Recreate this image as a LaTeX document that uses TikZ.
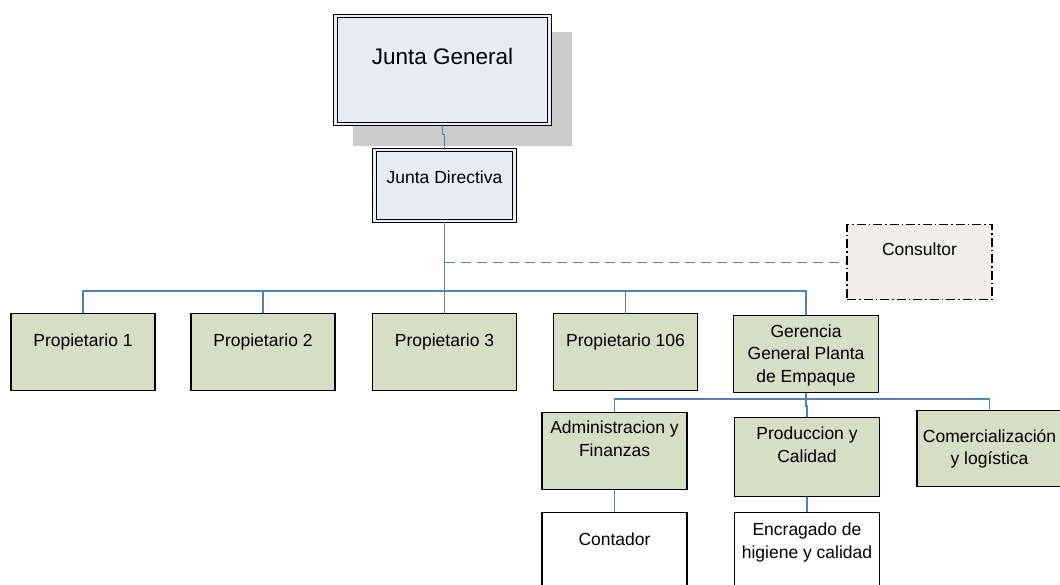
\documentclass[tikz,border=0pt]{standalone}
\usepackage{fontspec}
\setmainfont{Liberation Sans}
\begin{document}
\begin{tikzpicture}[x=1pt,y=-1pt,
  orgbox/.style={draw=black,line width=1.3pt,fill=boxFill,minimum width=144pt,minimum height=77pt,anchor=north,inner sep=0pt},
  plainbox/.style={orgbox,fill=white,minimum height=82pt},
  topbox/.style={draw=black,line width=1.1pt,double=topFill,double distance=2.4pt,fill=topFill,anchor=north,inner sep=0pt},
  consbox/.style={orgbox,fill=consFill,minimum width=145pt,minimum height=75pt,dash pattern=on 9pt off 3pt on 1.5pt off 3pt},
  boxtext/.style={anchor=north,align=center,inner sep=0pt,font=\fontsize{17.5}{22.5}\selectfont},
  link/.style={draw=linkColor,line width=1.3pt}]
\definecolor{boxFill}{RGB}{216,221,198}
\definecolor{topFill}{RGB}{231,236,247}
\definecolor{consFill}{RGB}{240,240,232}
\definecolor{shadowColor}{RGB}{204,204,204}
\definecolor{linkColor}{RGB}{79,129,189}
\path[use as bounding box,fill=white] (0,0) rectangle (1060,584);

\path[fill=shadowColor] (353,32) rectangle (572,146);

\node[topbox,minimum width=214pt,minimum height=108pt,
  label={[boxtext,font=\fontsize{22.5}{27}\selectfont,yshift=-32]north:Junta General}] (jg) at (442.5,15.5) {};

\node[topbox,minimum width=140pt,minimum height=71pt,
  label={[boxtext,yshift=-21]north:Junta Directiva}] (jd) at (444.5,149.5) {};

\node[consbox,label={[boxtext,yshift=-19]north:Consultor}] (cons) at (919.5,224) {};

\node[orgbox,label={[boxtext,yshift=-21]north:Propietario 1}] (p1) at (83,313) {};

\node[orgbox,label={[boxtext,yshift=-21]north:Propietario 2}] (p2) at (263,313) {};

\node[orgbox,label={[boxtext,yshift=-21]north:Propietario 3}] (p3) at (444.5,313) {};

\node[orgbox,label={[boxtext,yshift=-21]north:Propietario 106}] (p106) at (625.5,313) {};

\node[orgbox,minimum width=145pt,label={[boxtext,yshift=-10]north:Gerencia\\General Planta\\de Empaque}] (ger) at (806,314.5) {};

\node[orgbox,minimum width=145pt,label={[boxtext,yshift=-9]north:Administracion y\\Finanzas}] (adm) at (614.5,412) {};

\node[orgbox,minimum width=145pt,minimum height=79pt,label={[boxtext,yshift=-10]north:Produccion y\\Calidad}] (prod) at (807,417) {};

\node[orgbox,minimum width=145pt,minimum height=76pt,label={[boxtext,yshift=-19]north:Comercialización\\y logística}] (com) at (989.5,410) {};

\node[plainbox,minimum width=145pt,label={[boxtext,yshift=-21]north:Contador}] (cont) at (614.5,512) {};

\node[plainbox,minimum width=145pt,label={[boxtext,yshift=-11]north:Encragado de\\higiene y calidad}] (enc) at (807,512) {};

\coordinate (hub) at (jd.south |- 0,291);
\coordinate (hubger) at (ger.south |- 0,399);

\draw[link] (jg.south) -- ++(0,10) -| (jd.north);
\draw[link] (jd.south) -- (hub);
\draw[link,dash pattern=on 10pt off 6pt] (jd.south |- cons.west) -- (cons.west);
\foreach \n in {p1,p2,p3,p106,ger}
  \draw[link] (hub) -| (\n.north);

\draw[link] (ger.south) -- (hubger);
\draw[link] (hubger) -| (adm.north);
\draw[link] (hubger) -| (com.north);
\draw[link] (hubger) -- ++(0,7) -| (prod.north);
\draw[link] (adm.south) -- (cont.north);
\draw[link] (prod.south) -- (enc.north);
\end{tikzpicture}
\end{document}
